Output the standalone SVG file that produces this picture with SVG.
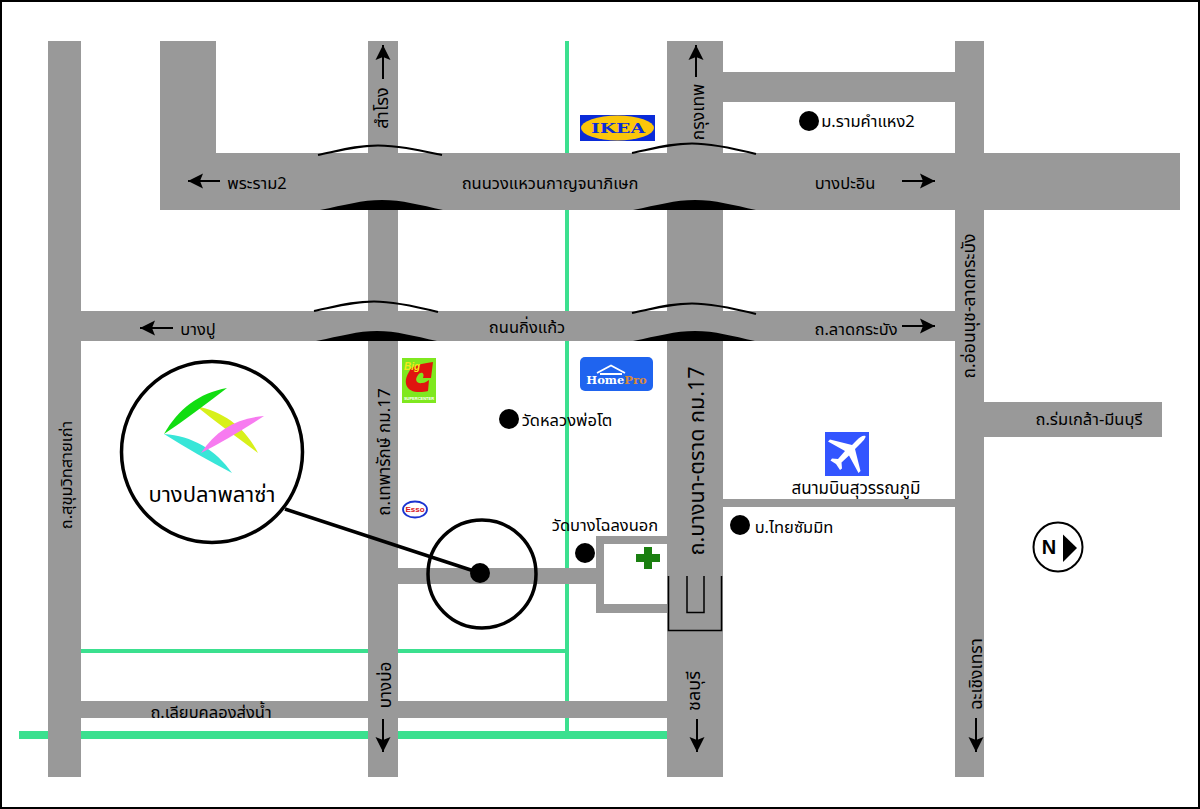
<svg xmlns="http://www.w3.org/2000/svg" width="1200" height="809" viewBox="0 0 1200 809">
<style>
.r{fill:#999}
.g{fill:#3be08f}
.t{font-family:"Noto Sans","Noto Sans Thai","Noto Sans CJK SC","DejaVu Sans",sans-serif;font-size:16.500px;fill:#000;text-anchor:middle;dominant-baseline:central}
.a{stroke:#000;stroke-width:2;fill:none;marker-end:url(#h)}
.l{stroke:#000;fill:none;stroke-width:2.200}
.d{fill:#000}
</style>
<defs>
<marker id="h" markerUnits="userSpaceOnUse" markerWidth="16" markerHeight="16" refX="15" refY="8" orient="auto"><path d="M0,0.500 L15,8 L0,15.500 L3,8 Z" fill="#000"/></marker>
</defs>
<rect x="0" y="0" width="1200" height="809" fill="#fff"/>
<g id="green-lines">
<rect class="g" x="565" y="41" width="4" height="695"/>
<rect class="g" x="81" y="649" width="486" height="4"/>
<rect class="g" x="19" y="731" width="648" height="8"/>
</g>
<g id="roads">
<rect class="r" x="48" y="41" width="33" height="736"/>
<rect class="r" x="368" y="41" width="30" height="736"/>
<rect class="r" x="667" y="41" width="56" height="736"/>
<rect class="r" x="955" y="41" width="29" height="736"/>
<rect class="r" x="160" y="41" width="56" height="112"/>
<rect class="r" x="160" y="153" width="1020" height="57"/>
<rect class="r" x="81" y="311" width="874" height="30"/>
<rect class="r" x="723" y="72" width="232" height="30"/>
<rect class="r" x="984" y="402" width="178" height="35"/>
<rect class="r" x="723" y="499" width="232" height="8"/>
<rect class="r" x="398" y="568" width="200" height="16"/>
<path class="r" d="M667,536 H596 V613 H667 V604 H604 V544 H667 Z"/>
<rect class="r" x="81" y="701" width="586" height="17"/>
</g>
<g id="connectors">
<path class="l" d="M318,155 C342,150 358,145.500 378,145.500 C398,145.500 418,150 442,155"/>
<path class="l" d="M632,153 C656,148 672,143.500 692,143.500 C712,143.500 732,148 756,154"/>
<path class="l" d="M314,311 C338,306 354,301.500 374,301.500 C394,301.500 414,306 438,312"/>
<path class="l" d="M632,313 C656,308 672,303.500 692,303.500 C712,303.500 732,308 756,314"/>
<path class="d" d="M320,210 C345,205 362,200 382,200 C402,200 420,205 443,210 Z"/>
<path class="d" d="M633,210 C658,205 675,200 695,200 C715,200 733,205 756,210 Z"/>
<path class="d" d="M316,341 C341,336 358,331 377,331 C396,331 414,336 437,341 Z"/>
<path class="d" d="M633,341 C658,336 675,331 695,331 C715,331 732,336 755,341 Z"/>
<path class="l" d="M668.500,576 V630.500 H721.500 V576" style="stroke-width:1.500"/>
<path class="l" d="M687,576 V612.500 H704 V576" style="stroke-width:1.500"/>
<line class="a" x1="220" y1="181" x2="188" y2="181"/>
<line class="a" x1="902" y1="181" x2="935" y2="181"/>
<line class="a" x1="173" y1="328" x2="140" y2="328"/>
<line class="a" x1="902" y1="326" x2="935" y2="326"/>
<line class="a" x1="383" y1="79" x2="383" y2="45"/>
<line class="a" x1="696" y1="77" x2="696" y2="45"/>
<line class="a" x1="383" y1="719" x2="383" y2="752"/>
<line class="a" x1="697" y1="719" x2="697" y2="752"/>
<line class="a" x1="976" y1="718" x2="976" y2="752"/>
<line x1="285" y1="509" x2="480" y2="573" stroke="#000" stroke-width="3.500"/>
</g>
<g id="road-labels">
<text class="t" x="257" y="182">พระราม2</text>
<text class="t" x="550" y="182">ถนนวงแหวนกาญจนาภิเษก</text>
<text class="t" x="845" y="182">บางปะอิน</text>
<text class="t" x="198" y="328">บางปู</text>
<text class="t" x="527" y="326">ถนนกิ่งแก้ว</text>
<text class="t" x="856" y="328">ถ.ลาดกระบัง</text>
<text class="t" x="1089" y="418">ถ.ร่มเกล้า-มีนบุรี</text>
<text class="t" x="211" y="711">ถ.เลียบคลองส่งน้ำ</text>
<text class="t" transform="translate(381,108) rotate(-90)" style="font-size:18px">สำโรง</text>
<text class="t" transform="translate(697,112) rotate(-90)" style="font-size:17.500px">กรุงเทพ</text>
<text class="t" transform="translate(383,452) rotate(-90)" style="font-size:17px">ถ.เทพารักษ์ กม.17</text>
<text class="t" transform="translate(695,461) rotate(-90)" style="font-size:21.500px">ถ.บางนา-ตราด กม.17</text>
<text class="t" transform="translate(968,306) rotate(-90)" style="font-size:17.500px">ถ.อ่อนนุช-ลาดกระบัง</text>
<text class="t" transform="translate(65,475) rotate(-90)">ถ.สุขุมวิทสายเก่า</text>
<text class="t" transform="translate(384,685) rotate(-90)" style="font-size:17px">บางบ่อ</text>
<text class="t" transform="translate(693,691) rotate(-90)" style="font-size:18px">ชลบุรี</text>
<text class="t" transform="translate(975,674) rotate(-90)" style="font-size:17.500px">ฉะเชิงเทรา</text>
</g>
<g id="ikea"><rect x="580" y="115" width="75" height="26" fill="#0a2bd8"/><ellipse cx="617.500" cy="128" rx="36.500" ry="12.500" fill="#fbc60a"/><text x="618" y="128" style="font-family:'DejaVu Serif',serif;font-weight:bold;font-size:13px;fill:#0a2bd8;text-anchor:middle;dominant-baseline:central" textLength="54" lengthAdjust="spacingAndGlyphs">IKEA</text></g>
<g id="bigc"><rect x="402" y="358" width="34" height="45" fill="#7fe81f"/><path d="M433,362 L431,378 H423 C425,373 421,371 418,375 C414,380 417,384 422,383 C425,383 427,381 429,380 L428,391 C420,393 408,393 406,384 C405,378 408,374 410,370 C412,366 420,364 433,362 Z" fill="#e0140f"/><text x="412" y="366" style="font-family:'Liberation Sans',sans-serif;font-weight:bold;font-style:italic;font-size:10px;fill:#f5e71a;text-anchor:middle;dominant-baseline:central">Big</text><text x="419" y="398.500" style="font-family:'Liberation Sans',sans-serif;font-weight:bold;font-size:4px;fill:#fff;text-anchor:middle;dominant-baseline:central">SUPERCENTER</text></g>
<g id="homepro"><rect x="580" y="357" width="73" height="34" rx="5" fill="#1f64ef"/><path d="M597,373 L611,365.500 L625,373 M600,374 H622" stroke="#fff" stroke-width="1.800" fill="none"/><text x="616.500" y="379.500" style="font-family:'DejaVu Serif',serif;font-weight:bold;font-size:11.500px;fill:#fff;text-anchor:middle;dominant-baseline:central">Home<tspan fill="#d98a3a">Pro</tspan></text></g>
<g id="esso"><ellipse cx="415" cy="509.500" rx="12" ry="8" fill="#fff" stroke="#1a33d0" stroke-width="1.800"/><text x="415" y="509.500" style="font-family:'Liberation Sans',sans-serif;font-weight:bold;font-size:8px;fill:#d81424;text-anchor:middle;dominant-baseline:central">Esso</text></g>
<g id="airport"><rect x="825" y="432" width="44" height="44" fill="#3355ff"/><path d="M865.500,436 C863,435 860,437 857,440 L852,445 L830,439.500 L828,441.500 L845,451 L838,459 L832,458.500 L830.500,460.500 L836,464 L840,470 L842,468.500 L841.500,462.500 L849,455.500 L858.500,473 L860.500,471 L855,449 L860,444 C863,441 866,438 865.500,436 Z" fill="#fff"/><text class="t" x="856" y="487" style="font-size:17px">สนามบินสุวรรณภูมิ</text></g>
<g id="hospital"><path d="M644,547 H652 V554 H660 V562 H652 V569 H644 V562 H636 V554 H644 Z" fill="#1a7f10"/></g>
<g id="ram2"><circle class="d" cx="809" cy="121" r="10"/><text class="t" x="868" y="120">ม.รามคำแหง2</text></g>
<g id="wat-luang"><circle class="d" cx="509" cy="419" r="10"/><text class="t" x="567" y="419">วัดหลวงพ่อโต</text></g>
<g id="wat-bang"><circle class="d" cx="585" cy="553" r="10"/><text class="t" x="605" y="524">วัดบางโฉลงนอก</text></g>
<g id="summit"><circle class="d" cx="740" cy="525" r="10"/><text class="t" x="794" y="526">บ.ไทยซัมมิท</text></g>
<g id="compass"><circle cx="1058" cy="547" r="24.500" fill="#fff" stroke="#000" stroke-width="2"/><text x="1049" y="547" style="font-family:'Liberation Sans',sans-serif;font-weight:bold;font-size:20px;fill:#000;text-anchor:middle;dominant-baseline:central">N</text><path d="M1063,534.500 L1077,548 L1063,562 Z" fill="#000"/></g>
<g id="target"><circle cx="482" cy="574" r="54" fill="none" stroke="#000" stroke-width="3.500"/><circle class="d" cx="480" cy="573" r="10"/></g>
<g id="plaza"><circle cx="212" cy="452" r="90.500" fill="#fff" stroke="#000" stroke-width="3.500"/>
<path d="M196,406 C224,412 245,427 258,453 C238,438 217,423 196,406 Z" fill="#d8f01a"/>
<path d="M164,434 C178,409 199,393 227,388 C206,404 185,420 164,434 Z" fill="#11dd11"/>
<path d="M164,434 C192,436 215,449 232,473 C209,461 186,448 164,434 Z" fill="#38e6d8"/>
<path d="M264,416 C237,418 216,430 201,453 C222,442 243,430 264,416 Z" fill="#f77bf0"/>
<text class="t" x="212" y="493" style="font-size:22px">บางปลาพลาซ่า</text></g>
<rect x="1" y="1" width="1198" height="807" fill="none" stroke="#000" stroke-width="2"/>
</svg>
